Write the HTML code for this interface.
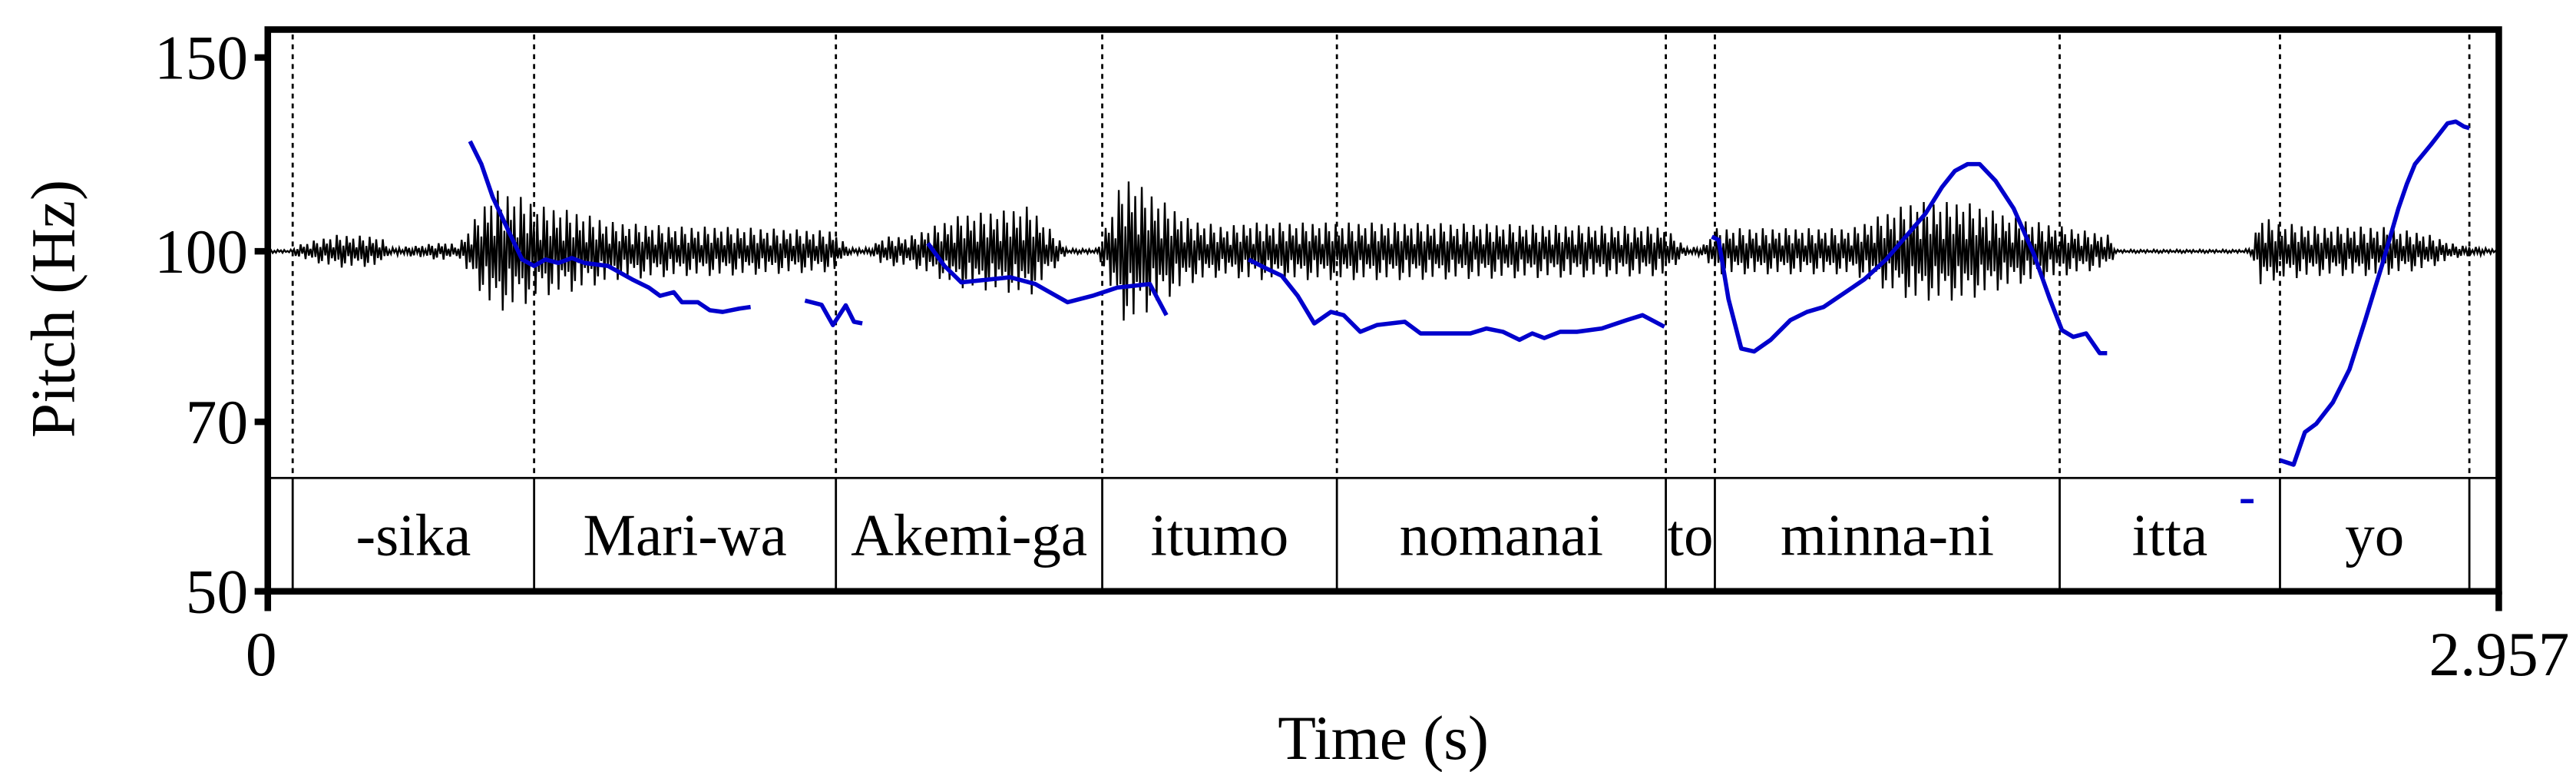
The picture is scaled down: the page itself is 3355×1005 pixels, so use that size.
<!DOCTYPE html>
<html><head><meta charset="utf-8"><title>Pitch contour chart</title>
<style>
html,body{margin:0;padding:0;background:#fff;}
svg{display:block;}
text{font-family:"Liberation Serif","DejaVu Serif",serif;fill:#000;}
</style></head>
<body>
<svg id="chart" width="3355" height="1005" viewBox="0 0 1568 470" preserveAspectRatio="none" xmlns="http://www.w3.org/2000/svg">
<g id="wave"></g>
<g id="bounds"></g>
<g id="pitch"></g>
<g id="tier"></g>
<g id="axes"></g>
</svg>
<script>
// ---- data ----
const yTicks = [150, 100, 70, 50];
const xTickLabels = ["0", "2.957"];
const tMax = 2.957;
const boundaryTimes = [0.033, 0.353, 0.753, 1.106, 1.417, 1.853, 1.918, 2.375, 2.667, 2.918];
const wordLabels = ["-sika", "Mari-wa", "Akemi-ga", "itumo", "nomanai", "to", "minna-ni", "itta", "yo"];
const seg1T = [.268,.283,.298,.320,.337,.353,.368,.385,.403,.420,.451,.483,.505,.520,.538,.549,.570,.586,.603,.625,.640];
const seg1F = [125.9,120,112,104,98.3,97,98.3,97.6,98.6,97.6,97,94.3,92.7,91.1,91.8,89.9,89.9,88.4,88.1,88.7,89.0];
const seg2T = [.712,.734,.749,.766,.777,.788];
const seg2F = [90.2,89.4,85.7,89.3,86.3,86.0];
const seg3T = [.875,.897,.919,.951,.984,1.017,1.060,1.093,1.126,1.169,1.191];
const seg3F = [101.7,97,93.7,94.2,94.7,93.4,89.9,91.1,92.7,93.4,87.5];
const seg4T = [1.300,1.322,1.344,1.365,1.387,1.409,1.426,1.448,1.470,1.507,1.528,1.561,1.594,1.615,1.637,1.659,1.676,1.692,1.713,1.735,1.768,1.801,1.822,1.851];
const seg4F = [98.3,96.6,95.0,91.1,86.0,88.1,87.5,84.5,85.7,86.3,84.2,84.2,84.2,85.1,84.5,83.1,84.2,83.4,84.5,84.5,85.1,86.6,87.5,85.4];
const seg5T = [1.914,1.923,1.936,1.953,1.970,1.992,2.018,2.040,2.062,2.084,2.116,2.145,2.171,2.197,2.219,2.236,2.253,2.269,2.290,2.314,2.341,2.362,2.378,2.393,2.410,2.428,2.438];
const seg5F = [103.1,102.4,90.5,81.6,81.1,83.1,86.6,88.1,89.0,91.1,94.3,98.3,103.1,108.2,114.4,118.3,120,120,115.9,109.4,99.3,90.5,84.8,83.6,84.2,80.8,80.8];
const seg6T = [2.615,2.632];
const seg6F = [59.3,59.3];
const seg7T = [2.667,2.685,2.700,2.715,2.737,2.759,2.780,2.802,2.824,2.835,2.846,2.867,2.889,2.900,2.911,2.918];
const seg7F = [64.6,64.0,68.5,69.7,72.9,78.1,86.6,97.0,109.4,115.1,120,125,130.7,131.2,129.8,129.4];
// waveform amplitude envelope (fraction of 50 px half-height), keyed by time
const waveT = [0,.033,.04,.09,.15,.16,.19,.24,.25,.30,.34,.36,.40,.46,.55,.60,.75,.77,.80,.81,.82,.85,.92,.98,1.01,1.06,1.10,1.13,1.14,1.22,1.24,1.27,1.30,1.50,1.85,1.88,1.90,1.92,2.10,2.14,2.18,2.25,2.32,2.38,2.44,2.45,2.62,2.63,2.64,2.66,2.72,2.80,2.86,2.90,2.957];
const waveA = [.02,.02,.08,.2,.18,.04,.06,.12,.05,.75,.65,.55,.5,.35,.3,.3,.25,.04,.04,.15,.18,.18,.45,.5,.55,.03,.03,.8,.9,.4,.35,.3,.35,.35,.3,.05,.05,.28,.28,.45,.6,.6,.4,.3,.2,.02,.02,.05,.45,.35,.3,.3,.22,.08,.02];

// ---- scales ----
const X0 = 163, X1 = 1521, Y0 = 18, Y1 = 360, TIER = 291;
const x = t => X0 + (t / tMax) * (X1 - X0);
const y = f => 153 - 291 * Math.log(f / 100);
const NS = "http://www.w3.org/2000/svg";
function mk(tag, parent, attrs) { const e = document.createElementNS(NS, tag); for (const k in attrs) e.setAttribute(k, attrs[k]); parent.appendChild(e); return e; }
const gW = document.getElementById('wave'), gB = document.getElementById('bounds'), gP = document.getElementById('pitch'), gT = document.getElementById('tier'), gA = document.getElementById('axes');

// waveform
function env(t){ for(let i=1;i<waveT.length;i++){ if(t<=waveT[i]){ const r=(t-waveT[i-1])/(waveT[i]-waveT[i-1]); return waveA[i-1]+r*(waveA[i]-waveA[i-1]); } } return waveA[waveA.length-1]; }
let d = "M" + X0 + " 153";
const pat = [1, -0.5, 0.7, -1, 0.35, -0.75, 0.95, -0.3, 0.55, -0.9, 0.8, -0.45, 0.25, -0.6];
for (let i = 0, px = X0; px < X1; i++, px += 1.0) {
  const t = (px - X0) / (X1 - X0) * tMax;
  const a = env(t) * 50 * pat[i % pat.length];
  d += " L" + px.toFixed(1) + " " + (153 - a).toFixed(1);
}
const wp = mk('path', gW, {d: d, fill: 'none', stroke: '#000', 'stroke-width': 1.1});



// boundaries
boundaryTimes.forEach((bt, i) => {
  const bx = x(bt);
  const l1 = mk('line', gB, {x1: bx, y1: Y0 + 3, x2: bx, y2: TIER, stroke: '#000', 'stroke-width': 1.3, 'stroke-dasharray': '3,3'});
  
  
  const l2 = mk('line', gB, {x1: bx, y1: TIER, x2: bx, y2: Y1, stroke: '#000', 'stroke-width': 1.3});
  
  
});

// pitch
[[seg1T,seg1F],[seg2T,seg2F],[seg3T,seg3F],[seg4T,seg4F],[seg5T,seg5F],[seg6T,seg6F],[seg7T,seg7F]].forEach(([ts, fs], k) => {
  const pts = ts.map((t, i) => x(t).toFixed(1) + "," + y(fs[i]).toFixed(1)).join(" ");
  const pl = mk('polyline', gP, {points: pts, fill: 'none', stroke: '#0000cc', 'stroke-width': 2.6, 'stroke-linejoin': 'round'});
  
  
});

// tier
const tl = mk('line', gT, {x1: X0, y1: TIER, x2: X1, y2: TIER, stroke: '#000', 'stroke-width': 1.3});


wordLabels.forEach((w, i) => {
  const cx = (x(boundaryTimes[i]) + x(boundaryTimes[i + 1])) / 2;
  const tx = mk('text', gT, {x: cx, y: 338, 'font-size': 36, 'text-anchor': 'middle'});
  tx.textContent = w;
  
  
});

// axes
const fr = mk('rect', gA, {x: X0, y: Y0, width: X1 - X0, height: Y1 - Y0, fill: 'none', stroke: '#000', 'stroke-width': 4});


yTicks.forEach(v => {
  const yy = v === 50 ? Y1 : y(v);
  const tk = mk('line', gA, {x1: X0 - 8, y1: yy, x2: X0, y2: yy, stroke: '#000', 'stroke-width': 4});
  
  
  const lb = mk('text', gA, {x: X0 - 12, y: yy + 13, 'font-size': 38, 'text-anchor': 'end'});
  lb.textContent = String(v);
  
  
});
[0, tMax].forEach((t, i) => {
  const xx = x(t);
  const tk = mk('line', gA, {x1: xx, y1: Y1, x2: xx, y2: Y1 + 12, stroke: '#000', 'stroke-width': 4});
  
  
  const lb = mk('text', gA, {x: i === 0 ? xx - 4 : 1564, y: 411, 'font-size': 38, 'text-anchor': i === 0 ? 'middle' : 'end'});
  lb.textContent = xTickLabels[i];
  
  
});
const xt = mk('text', gA, {x: 842, y: 462, 'font-size': 38, 'text-anchor': 'middle'});
xt.textContent = "Time (s)";


const yt = mk('text', gA, {x: 0, y: 0, 'font-size': 38, 'text-anchor': 'middle', transform: 'translate(45,188) rotate(-90)'});
yt.textContent = "Pitch (Hz)";


</script>
</body></html>
